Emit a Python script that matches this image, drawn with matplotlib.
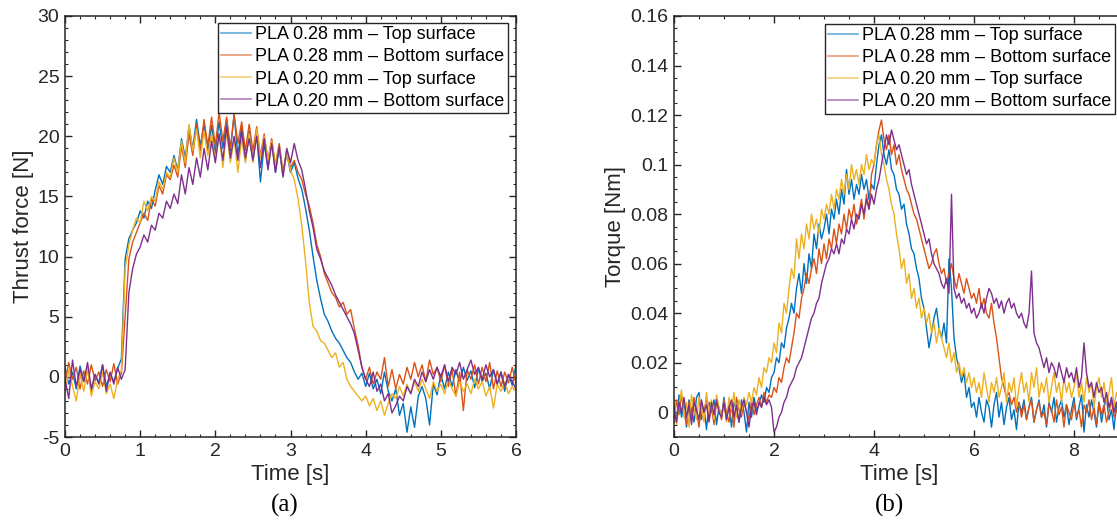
import numpy as np
import matplotlib.pyplot as plt
from matplotlib.ticker import MultipleLocator, FuncFormatter

plt.rcParams['font.family'] = ['Liberation Sans', 'DejaVu Sans']
plt.rcParams['axes.unicode_minus'] = False

labels = ['PLA 0.28 mm – Top surface', 'PLA 0.28 mm – Bottom surface',
          'PLA 0.20 mm – Top surface', 'PLA 0.20 mm – Bottom surface']
colors = ['#0072BD', '#D95319', '#EDB120', '#7E2F8E']

# thrust force [N], one sample every 0.05 s, one row = 0.5 s
dt_force = 0.05
force_top_028 = [
    0.8, -0.6, 0.4, -1.0, 0.9, -0.3, 0.6, -1.2, 0.2, -0.5,
    1.0, -0.8, 0.3, -0.4, 0.7, 1.5, 9.8, 11.5, 12.2, 12.8,
    13.8, 13.2, 14.6, 14.0, 15.5, 16.8, 16.0, 17.5, 17.0, 18.4,
    17.2, 19.8, 18.2, 20.8, 19.0, 21.4, 19.2, 21.0, 18.8, 20.9,
    18.6, 21.2, 19.0, 21.4, 18.8, 21.8, 18.4, 20.8, 18.0, 20.4,
    18.0, 20.2, 16.2, 19.4, 17.4, 19.6, 17.0, 19.0, 16.8, 18.6,
    17.0, 17.8, 16.5, 15.6, 14.0, 12.2, 10.0, 8.0, 6.5, 5.2,
    4.6, 3.8, 3.2, 2.8, 2.2, 1.6, 1.2, 0.4, -0.2, 0.3,
    -0.8, 0.3, -1.0, -0.2, -1.4, 0.4, -1.2, -2.0, -1.0, -3.2,
    -2.2, -4.6, -2.5, -4.2, -1.6, -0.8, -1.8, -4.0, -0.6, -1.5,
    0.2, -1.0, 0.4, -0.8, 0.6, -0.5, 0.8, -0.3, 0.5, -0.9,
    0.7, -0.4, 0.3, -1.0, 0.6, -0.6, 0.4, -1.2, 0.2, -0.7,
    1.0]
force_bot_028 = [
    -0.5, 1.2, -0.2, 0.8, -1.0, 0.5, -0.6, 1.0, -0.3, 0.4,
    -0.8, 0.6, -0.4, 1.1, -0.6, 0.3, 5.0, 9.8, 11.2, 12.0,
    12.8, 13.6, 13.0, 14.8, 14.2, 15.9, 15.2, 16.8, 16.4, 17.6,
    16.6, 19.2, 17.4, 20.2, 18.4, 21.0, 18.8, 21.4, 19.2, 21.6,
    19.2, 22.0, 19.6, 21.6, 19.0, 21.8, 19.4, 21.2, 18.8, 21.0,
    18.8, 20.8, 18.4, 20.2, 18.0, 19.8, 17.6, 19.4, 17.0, 18.8,
    17.4, 18.0, 17.0, 16.4, 15.2, 14.2, 12.8, 11.0, 10.0, 8.6,
    7.8, 7.0, 6.6, 5.8, 6.2, 5.2, 5.6, 4.0, 2.6, 0.8,
    -0.2, 0.8, -0.6, 0.4, -0.2, 1.6, -0.8, 0.6, -1.0, 0.2,
    -0.6, 0.8, -0.2, 1.2, 0.0, 1.0, -0.4, 1.4, 0.2, 0.8,
    -0.4, 1.0, -0.8, 0.6, -1.6, 0.4, -2.8, 0.6, -0.2, 1.0,
    -0.6, 0.8, -0.4, 1.2, -1.0, 0.5, -0.8, 0.4, -0.5, 0.8,
    -0.6]
force_top_020 = [
    -1.4, 0.6, -0.8, -2.0, 0.2, -1.2, 0.8, -1.6, -0.4, -1.0,
    0.4, -1.4, -0.6, -1.8, -0.2, 0.5, 9.0, 11.0, 12.2, 13.2,
    12.8, 14.6, 13.8, 15.0, 14.6, 16.2, 15.6, 17.0, 16.6, 18.2,
    17.0, 19.6, 17.8, 21.0, 18.8, 20.6, 18.2, 20.4, 18.4, 20.2,
    18.0, 20.2, 17.4, 20.4, 17.8, 19.8, 17.0, 19.8, 17.8, 20.2,
    17.8, 20.6, 18.2, 20.0, 18.0, 19.6, 17.6, 19.2, 16.8, 18.6,
    17.2, 16.4, 14.8, 12.6, 9.6, 6.2, 4.2, 3.8, 3.0, 2.8,
    2.2, 1.6, 2.0, 0.8, 1.2, -0.2, -0.8, -1.2, -1.6, -2.0,
    -1.6, -2.4, -1.8, -2.8, -2.0, -3.2, -2.2, -1.4, -1.8, -0.8,
    -1.6, -0.6, -1.4, -0.4, -1.2, -0.2, -1.0, -1.8, -0.4, -1.2,
    -0.6, -1.4, -0.2, -1.0, -1.6, -0.4, -1.2, -0.6, -1.4, -0.2,
    -1.0, -0.4, -1.6, -0.8, -2.6, -0.6, -1.2, -0.4, -1.4, -0.8,
    -1.2]
force_bot_020 = [
    -0.2, -1.8, 1.4, -0.8, 0.6, -0.4, 1.2, -1.0, 0.2, -0.6,
    1.0, -1.2, 0.4, -0.6, 0.8, -0.2, 0.6, 7.0, 9.0, 10.2,
    10.8, 11.8, 11.2, 12.6, 12.2, 13.6, 13.2, 14.6, 14.0, 15.2,
    14.4, 16.8, 15.2, 17.4, 16.0, 18.2, 16.6, 19.0, 17.2, 19.6,
    17.8, 20.2, 18.0, 20.8, 18.2, 20.0, 18.0, 20.4, 18.2, 19.8,
    18.0, 20.0, 17.4, 19.8, 17.2, 19.4, 17.0, 19.2, 16.6, 19.0,
    17.8, 19.4, 18.0, 17.2, 15.6, 13.8, 12.4, 10.6, 9.8, 8.8,
    8.2, 7.6, 6.8, 6.2, 5.6, 5.0, 4.4, 3.6, 2.2, 0.8,
    -0.2, -0.8, 0.4, -1.2, -0.6, -2.0, -1.4, -3.0, -2.4, -1.6,
    -2.0, -0.8, -1.4, -0.2, -0.8, 0.4, -0.4, 0.6, -0.2, 0.8,
    0.0, 1.0, -0.4, 0.8, 0.2, 1.2, -0.2, 0.6, 1.4, 0.2,
    0.8, -0.2, 1.0, 0.0, 0.6, -0.6, 0.4, -0.8, 0.2, -0.4,
    -1.0]

# torque [Nm], one sample every 0.05 s, one row = 1 s
dt_torque = 0.05
torque_top_028 = [
    0.004, -0.004, 0.007, -0.002, 0.003, -0.006, 0.005, 0.001, -0.004, 0.006,
    0.008, -0.003, 0.002, -0.007, 0.004, 0.0, 0.005, -0.005, 0.002, -0.002,
    0.006, -0.003, 0.003, -0.006, 0.004, 0.001, -0.004, 0.005, 0.0, -0.008,
    0.004, -0.002, 0.006, 0.001, 0.003, 0.007, 0.004, 0.01, 0.008, 0.014,
    0.016, 0.022, 0.02, 0.028, 0.026, 0.034, 0.038, 0.044, 0.04, 0.05,
    0.056, 0.048, 0.06, 0.052, 0.064, 0.058, 0.072, 0.066, 0.076, 0.07,
    0.074, 0.08, 0.072, 0.082, 0.078, 0.086, 0.08, 0.09, 0.084, 0.098,
    0.088, 0.094, 0.086, 0.092, 0.088, 0.096, 0.09, 0.094, 0.086, 0.092,
    0.09, 0.1, 0.108, 0.112, 0.104, 0.1, 0.106, 0.098, 0.096, 0.09,
    0.088, 0.082, 0.084, 0.076, 0.072, 0.066, 0.064, 0.058, 0.054, 0.046,
    0.042, 0.034, 0.026, 0.032, 0.038, 0.042, 0.034, 0.03, 0.036, 0.028,
    0.062, 0.05, 0.03, 0.022, 0.018, 0.012, 0.016, 0.006, 0.01, 0.002,
    0.004, -0.002, 0.006, 0.0, -0.004, 0.005, 0.002, -0.006, 0.003, 0.008,
    -0.002, 0.004, -0.005, 0.002, 0.006, -0.003, 0.001, -0.007, 0.004, 0.0,
    0.005, -0.003, 0.002, 0.006, -0.004, 0.001, 0.005, -0.002, 0.003, -0.006,
    0.004, 0.0, 0.006, -0.004, 0.002, 0.005, -0.002, 0.003, -0.005, 0.001,
    0.006, -0.003, 0.002, 0.007, -0.008, 0.003, -0.002, 0.005, 0.0, -0.006,
    0.004, -0.004, 0.002, 0.006, -0.003, 0.001, -0.007, 0.004, -0.002, 0.003,
    0.0, 0.005, -0.004, 0.002, -0.006, 0.003, 0.001]
torque_bot_028 = [
    -0.004, 0.005, -0.001, 0.007, 0.0, -0.005, 0.004, -0.002, 0.006, 0.001,
    -0.006, 0.003, 0.0, 0.006, -0.003, 0.002, -0.005, 0.004, 0.001, -0.003,
    0.005, 0.0, -0.004, 0.003, -0.006, 0.006, 0.001, -0.002, 0.004, 0.0,
    -0.003, 0.005, -0.001, 0.003, 0.006, 0.002, 0.008, 0.004, 0.007, 0.006,
    0.01, 0.008, 0.014, 0.012, 0.018, 0.022, 0.02, 0.026, 0.032, 0.04,
    0.038, 0.046, 0.05, 0.056, 0.052, 0.058, 0.062, 0.056, 0.066, 0.06,
    0.068, 0.062, 0.07, 0.066, 0.074, 0.068, 0.076, 0.072, 0.08, 0.074,
    0.082, 0.078, 0.084, 0.076, 0.08, 0.086, 0.078, 0.088, 0.082, 0.096,
    0.1, 0.108, 0.114, 0.118, 0.11, 0.106, 0.112, 0.104, 0.108, 0.1,
    0.104, 0.098, 0.094, 0.09, 0.088, 0.084, 0.08, 0.078, 0.074, 0.07,
    0.066, 0.062, 0.058, 0.06, 0.064, 0.066, 0.06, 0.056, 0.058, 0.052,
    0.056, 0.06, 0.054, 0.05, 0.056, 0.052, 0.048, 0.054, 0.05, 0.046,
    0.048, 0.044, 0.05, 0.042, 0.046, 0.04, 0.038, 0.044, 0.036, 0.03,
    0.022, 0.014, 0.01, 0.006, 0.008, 0.003, 0.006, 0.0, 0.004, -0.002,
    0.003, -0.003, 0.002, 0.005, -0.004, 0.001, 0.004, -0.002, 0.0, -0.005,
    0.003, 0.001, -0.004, 0.005, -0.001, 0.002, -0.006, 0.003, 0.0, -0.003,
    0.004, -0.002, 0.001, -0.006, 0.003, 0.0, 0.005, -0.003, 0.002, -0.005,
    0.004, -0.001, 0.003, -0.004, 0.0, 0.005, -0.002, 0.001, -0.004, 0.002,
    -0.002, 0.003, -0.005, 0.001, 0.004, -0.003, 0.0]
torque_top_020 = [
    0.006, -0.005, 0.003, 0.009, -0.002, 0.004, -0.006, 0.007, 0.001, -0.003,
    0.006, 0.002, -0.004, 0.008, 0.0, 0.005, -0.003, 0.007, 0.002, -0.002,
    0.004, -0.004, 0.006, 0.001, 0.008, -0.002, 0.005, 0.0, 0.006, 0.003,
    0.008, 0.004, 0.01, 0.007, 0.014, 0.01, 0.018, 0.016, 0.022, 0.02,
    0.028, 0.024, 0.036, 0.032, 0.044, 0.04, 0.05, 0.058, 0.054, 0.07,
    0.062, 0.072, 0.066, 0.076, 0.07, 0.08, 0.074, 0.078, 0.072, 0.082,
    0.078, 0.084, 0.08, 0.088, 0.082, 0.09, 0.086, 0.094, 0.088, 0.096,
    0.09, 0.1, 0.094, 0.098, 0.092, 0.1, 0.096, 0.104, 0.098, 0.102,
    0.1, 0.108, 0.112, 0.104, 0.1, 0.094, 0.09, 0.084, 0.08, 0.072,
    0.066, 0.058, 0.062, 0.052, 0.056, 0.046, 0.05, 0.042, 0.046, 0.038,
    0.042, 0.036, 0.04, 0.032, 0.036, 0.028, 0.034, 0.03, 0.026, 0.022,
    0.028, 0.02, 0.024, 0.016, 0.02, 0.014, 0.018, 0.012, 0.016, 0.01,
    0.014, 0.008, 0.012, 0.006, 0.016, 0.01, 0.004, 0.012, 0.008, 0.014,
    0.006, 0.01, 0.016, 0.004, 0.012, 0.008, 0.014, 0.002, 0.01, 0.016,
    0.008, 0.012, 0.004, 0.016, 0.01, 0.018, 0.006, 0.012, 0.008, 0.014,
    0.004, 0.01, 0.016, 0.008, 0.012, 0.004, 0.014, 0.008, 0.012, 0.006,
    0.01, 0.016, 0.006, 0.012, 0.004, 0.014, 0.008, 0.012, 0.002, 0.01,
    0.014, 0.006, 0.012, 0.004, 0.008, 0.014, 0.002, 0.008, 0.004, 0.01,
    0.006, 0.002, 0.008, -0.002, 0.004, 0.0, 0.006]
torque_bot_020 = [
    0.002, -0.004, 0.004, 0.0, 0.006, -0.002, 0.003, -0.005, 0.004, 0.001,
    -0.003, 0.005, 0.0, 0.003, -0.004, 0.004, -0.001, 0.005, 0.0, -0.002,
    0.004, -0.003, 0.002, 0.005, -0.002, 0.003, -0.004, 0.002, 0.005, 0.0,
    -0.006, 0.002, 0.004, -0.001, 0.004, 0.002, 0.006, 0.003, 0.005, 0.002,
    -0.008, -0.006, -0.002, 0.0, 0.004, 0.006, 0.01, 0.012, 0.014, 0.018,
    0.02, 0.022, 0.026, 0.03, 0.034, 0.038, 0.04, 0.044, 0.046, 0.052,
    0.056, 0.06, 0.062, 0.066, 0.064, 0.068, 0.064, 0.07, 0.068, 0.074,
    0.072, 0.078, 0.074, 0.08, 0.078, 0.084, 0.08, 0.086, 0.082, 0.088,
    0.084, 0.09, 0.094, 0.1, 0.106, 0.112, 0.108, 0.114, 0.11, 0.106,
    0.108, 0.104, 0.1, 0.096, 0.098, 0.092, 0.088, 0.084, 0.08, 0.076,
    0.072, 0.068, 0.07, 0.064, 0.06, 0.058, 0.056, 0.052, 0.05, 0.054,
    0.048, 0.088, 0.05, 0.046, 0.048, 0.044, 0.046, 0.042, 0.044, 0.04,
    0.042, 0.038, 0.04, 0.044, 0.04, 0.046, 0.05, 0.048, 0.044, 0.046,
    0.042, 0.045, 0.04, 0.044, 0.046, 0.042, 0.044, 0.04, 0.038, 0.04,
    0.036, 0.034, 0.04, 0.057, 0.032, 0.028, 0.026, 0.022, 0.018, 0.022,
    0.016, 0.02, 0.018, 0.014, 0.02, 0.016, 0.012, 0.018, 0.014, 0.016,
    0.012, 0.018, 0.01, 0.014, 0.028, 0.016, 0.01, 0.012, 0.006, 0.012,
    0.008, 0.01, 0.004, 0.008, 0.002, 0.006, 0.0, 0.004, -0.002, 0.005,
    0.0, 0.003, -0.003, 0.002, -0.004, 0.001, 0.003]

force = [force_top_028, force_bot_028, force_top_020, force_bot_020]
torque = [torque_top_028, torque_bot_028, torque_top_020, torque_bot_020]

dark = '#262626'


def style_axes(ax):
    ax.tick_params(which='both', direction='in', top=True, right=True,
                   colors=dark, labelsize=14, pad=4)
    ax.tick_params(which='major', length=5, width=1)
    ax.tick_params(which='minor', length=2.5, width=0.8)
    for s in ax.spines.values():
        s.set_color(dark)
        s.set_linewidth(1.1)


def add_legend(ax, x, y):
    leg = ax.legend(labels, loc='upper right', bbox_to_anchor=(x, y),
                    fontsize=13, fancybox=False, framealpha=1,
                    edgecolor=dark, borderpad=0.18, labelspacing=0.28,
                    handlelength=1.65, handletextpad=0.25, borderaxespad=0)
    leg.get_frame().set_linewidth(1.0)
    for h in leg.get_lines():
        h.set_alpha(0.6)
        h.set_linewidth(1.2)


fig = plt.figure(figsize=(11.17, 5.30), dpi=100)

# (a) thrust force
ax1 = fig.add_axes([65 / 1117, 93 / 530, 451 / 1117, 421 / 530])
for vals, c in zip(force, colors):
    t = np.arange(len(vals)) * dt_force
    ax1.plot(t, vals, color=c, lw=1.0)
ax1.set_xlim(0, 6)
ax1.set_ylim(-5, 30)
ax1.xaxis.set_major_locator(MultipleLocator(1))
ax1.xaxis.set_minor_locator(MultipleLocator(0.2))
ax1.yaxis.set_major_locator(MultipleLocator(5))
ax1.yaxis.set_minor_locator(MultipleLocator(1))
ax1.set_xlabel('Time [s]', fontsize=16, color=dark, labelpad=3)
ax1.set_ylabel('Thrust force [N]', fontsize=16, color=dark, labelpad=3)
style_axes(ax1)
add_legend(ax1, 0.982, 0.983)

# (b) torque
ax2 = fig.add_axes([674 / 1117, 93 / 530, 450 / 1117, 421 / 530])
for vals, c in zip(torque, colors):
    t = np.arange(len(vals)) * dt_torque
    ax2.plot(t, vals, color=c, lw=1.0)
ax2.set_xlim(0, 9)
ax2.set_ylim(-0.01, 0.16)
ax2.xaxis.set_major_locator(MultipleLocator(2))
ax2.xaxis.set_minor_locator(MultipleLocator(0.5))
ax2.yaxis.set_major_locator(MultipleLocator(0.02))
ax2.yaxis.set_minor_locator(MultipleLocator(0.005))
ax2.yaxis.set_major_formatter(FuncFormatter(lambda v, p: '%g' % round(v, 3)))
ax2.set_xlabel('Time [s]', fontsize=16, color=dark, labelpad=3)
ax2.set_ylabel('Torque [Nm]', fontsize=16, color=dark, labelpad=3)
style_axes(ax2)
add_legend(ax2, 0.98, 0.981)

fig.text(285 / 1117, 25 / 530, '(a)', ha='center', va='center',
         fontsize=18, family='Liberation Serif')
fig.text(889 / 1117, 25 / 530, '(b)', ha='center', va='center',
         fontsize=18, family='Liberation Serif')

fig.savefig('out.png', dpi=100)
